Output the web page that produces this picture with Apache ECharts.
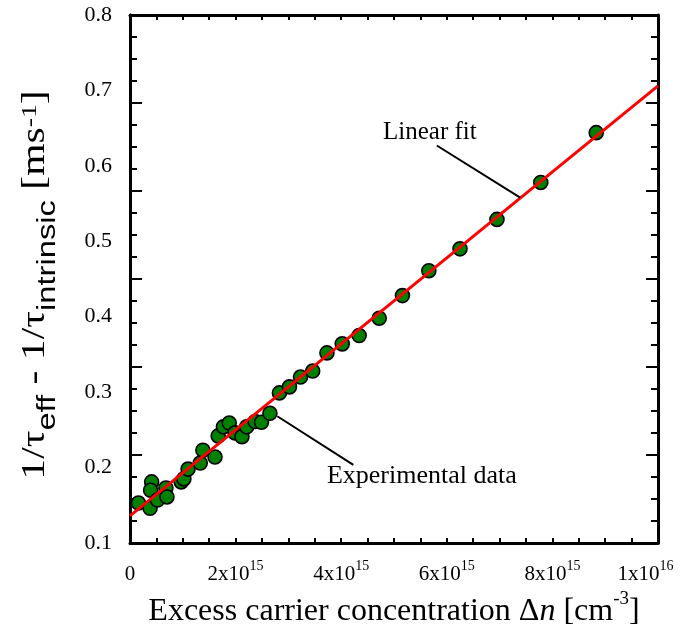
<!DOCTYPE html>
<html>
<head>
<meta charset="utf-8">
<script src="https://cdn.jsdelivr.net/npm/echarts@6/dist/echarts.min.js"></script>
<style>
  html, body { margin: 0; padding: 0; background: #ffffff; }
  #chart { width: 680px; height: 634px; }
</style>
</head>
<body>
<div id="chart"></div>
<script>
// Excess carrier concentration (cm^-3) and inverse-lifetime difference (ms^-1)
const excessCarriers = [
  0.16e15, 0.41e15, 0.39e15, 0.38e15, 0.52e15, 0.68e15, 0.70e15, 0.97e15, 1.02e15,
  1.10e15, 1.33e15, 1.38e15, 1.61e15, 1.67e15, 1.77e15, 1.88e15, 1.99e15, 2.12e15,
  2.21e15, 2.37e15, 2.49e15, 2.65e15, 2.83e15, 3.02e15, 3.23e15, 3.46e15, 3.73e15,
  4.02e15, 4.34e15, 4.72e15, 5.16e15, 5.66e15, 6.25e15, 6.95e15, 7.78e15, 8.83e15
];
const inverseLifetime = [
  0.153, 0.181, 0.170, 0.146, 0.157, 0.173, 0.161, 0.181, 0.185,
  0.198, 0.206, 0.223, 0.214, 0.242, 0.254, 0.259, 0.246, 0.241,
  0.254, 0.261, 0.260, 0.272, 0.299, 0.307, 0.320, 0.328, 0.352,
  0.364, 0.375, 0.398, 0.428, 0.461, 0.490, 0.529, 0.578, 0.644
];

// Linear fit end points
const fitCarriers = [0, 1e16];
const fitInverseLifetime = [0.136, 0.706];

// Tick labels
const xTickBase = ['0', '2x10', '4x10', '6x10', '8x10', '1x10'];
const xTickExp  = ['', '15', '15', '15', '15', '16'];
const yTickLabels = ['0.1', '0.2', '0.3', '0.4', '0.5', '0.6', '0.7', '0.8'];

const SERIF = '"Liberation Serif", "Times New Roman", serif';
const SANS = '"Liberation Sans", Arial, sans-serif';

const scatterData = excessCarriers.map((x, i) => [x, inverseLifetime[i]]);
const fitData = fitCarriers.map((x, i) => [x, fitInverseLifetime[i]]);

const chart = echarts.init(document.getElementById('chart'), null, { renderer: 'canvas' });

// Tick-only frame axes for the left and right sides
const tickAxisY = (position) => ({
  type: 'value', position: position, min: 0, max: 6, interval: 1,
  axisLine: { show: true, onZero: false, lineStyle: { color: '#000', width: 3 } },
  axisTick: { show: true, inside: true, length: 12, lineStyle: { color: '#000', width: 2 } },
  minorTick: { show: true, splitNumber: 4, length: 7, lineStyle: { color: '#000', width: 2 } },
  axisLabel: { show: false }, splitLine: { show: false }
});

const option = {
  backgroundColor: '#ffffff',
  animation: false,
  grid: { left: 130, right: 22, top: 15, bottom: 91, containLabel: false, outerBoundsMode: 'none' },
  xAxis: [
    {
      type: 'value', position: 'bottom', min: 0, max: 1e16, interval: 2e15,
      axisLine: { show: true, onZero: false, lineStyle: { color: '#000', width: 3 } },
      axisTick: { show: true, inside: true, length: 5, lineStyle: { color: '#000', width: 2 } },
      minorTick: { show: true, splitNumber: 4, length: 5, lineStyle: { color: '#000', width: 2 } },
      splitLine: { show: false },
      axisLabel: {
        margin: 16,
        formatter: (v) => {
          const i = Math.round(v / 2e15);
          if (!xTickExp[i]) return '{b|' + xTickBase[i] + '}';
          const expStyle = i === xTickBase.length - 1 ? 'eLast' : 'e';
          return '{b|' + xTickBase[i] + '}{' + expStyle + '|' + xTickExp[i] + '}';
        },
        rich: {
          b: { fontFamily: SERIF, fontSize: 21, color: '#000', lineHeight: 26, verticalAlign: 'bottom' },
          e: { fontFamily: SERIF, fontSize: 14, color: '#000', lineHeight: 18, verticalAlign: 'top' },
          eLast: { fontFamily: SERIF, fontSize: 14, color: '#000', lineHeight: 18, verticalAlign: 'top', padding: [0, 25, 0, 0] }
        }
      },
      name: '{t|Excess carrier concentration Δ}{i|n}{t| [cm}{p|-3}{t|]}',
      nameLocation: 'middle', nameGap: 46,
      nameTextStyle: {
        rich: {
          t: { fontFamily: SERIF, fontSize: 32, color: '#000', lineHeight: 38, verticalAlign: 'bottom' },
          i: { fontFamily: SERIF, fontSize: 32, fontStyle: 'italic', color: '#000', lineHeight: 38, verticalAlign: 'bottom' },
          p: { fontFamily: SERIF, fontSize: 19, color: '#000', lineHeight: 24, verticalAlign: 'top' }
        }
      }
    },
    {
      type: 'value', position: 'top', min: 0, max: 1e16, interval: 2e15,
      axisLine: { show: true, onZero: false, lineStyle: { color: '#000', width: 3 } },
      axisTick: { show: true, inside: true, length: 5, lineStyle: { color: '#000', width: 2 } },
      minorTick: { show: true, splitNumber: 4, length: 5, lineStyle: { color: '#000', width: 2 } },
      axisLabel: { show: false }, splitLine: { show: false }
    }
  ],
  yAxis: [
    {
      type: 'value', position: 'left', min: 0.1, max: 0.8, interval: 0.1,
      axisLine: { show: true, onZero: false, lineStyle: { color: '#000', width: 3 } },
      axisTick: { show: false },
      splitLine: { show: false },
      axisLabel: {
        margin: 18, fontFamily: SERIF, fontSize: 22, color: '#000',
        formatter: (v) => yTickLabels[Math.round((v - 0.1) * 10)]
      }
    },
    tickAxisY('left'),
    tickAxisY('right')
  ],
  series: [
    {
      type: 'scatter', name: 'Experimental data', xAxisIndex: 0, yAxisIndex: 0,
      data: scatterData, symbol: 'circle', symbolSize: 14, z: 3,
      itemStyle: { color: '#008000', borderColor: '#000', borderWidth: 1.6, opacity: 1 }
    },
    {
      type: 'line', name: 'Linear fit', xAxisIndex: 0, yAxisIndex: 0,
      data: fitData, showSymbol: false, symbol: 'none', z: 4,
      lineStyle: { color: '#ff0000', width: 3 }
    }
  ]
};

chart.setOption(option);

// Callouts with leader lines, anchored in data space
const px = (x, y) => chart.convertToPixel({ xAxisIndex: 0, yAxisIndex: 0 }, [x, y]);
const fitText = px(5.68e15, 0.644);
const fitLead = [px(5.81e15, 0.627), px(7.39e15, 0.558)];
const expText = px(3.73e15, 0.189);
const expLead = [px(2.79e15, 0.268), px(4.23e15, 0.2035)];

// Vertical axis title, centred on the plot's vertical midpoint
const grid = chart.getModel().getComponent('grid').coordinateSystem.getRect();
const yTitleCenter = grid.y + grid.height / 2 + 6;

chart.setOption({
  graphic: [
    { type: 'text', x: 40, y: yTitleCenter, rotation: Math.PI / 2, scaleX: 1.26, z: 10,
      style: {
        text: '{t|1/τ}{s|eff}{t| - 1/τ}{s|intrinsic}{t| [ms}{p|-1}{t|]}',
        align: 'center', verticalAlign: 'middle',
        rich: {
          t: { fontFamily: SERIF, fontSize: 33, fill: '#000', lineHeight: 42, verticalAlign: 'top' },
          s: { fontFamily: SANS, fontSize: 26, fill: '#000', lineHeight: 28, verticalAlign: 'bottom' },
          p: { fontFamily: SERIF, fontSize: 22, fill: '#000', lineHeight: 24, verticalAlign: 'top' }
        }
      } },
    { type: 'text', x: fitText[0], y: fitText[1], z: 10,
      style: { text: 'Linear fit', font: '25px ' + SERIF, fill: '#000', align: 'center', verticalAlign: 'middle' } },
    { type: 'line', z: 10, shape: { x1: fitLead[0][0], y1: fitLead[0][1], x2: fitLead[1][0], y2: fitLead[1][1] },
      style: { stroke: '#000', lineWidth: 2 } },
    { type: 'text', x: expText[0], y: expText[1], z: 10,
      style: { text: 'Experimental data', font: '26px ' + SERIF, fill: '#000', align: 'left', verticalAlign: 'middle' } },
    { type: 'line', z: 10, shape: { x1: expLead[0][0], y1: expLead[0][1], x2: expLead[1][0], y2: expLead[1][1] },
      style: { stroke: '#000', lineWidth: 2 } }
  ]
});
</script>
</body>
</html>
